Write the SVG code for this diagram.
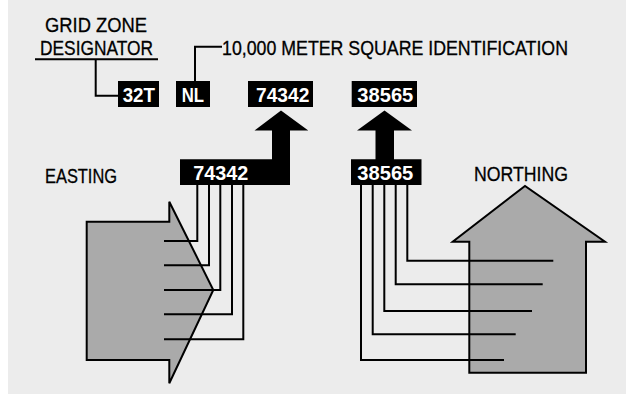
<svg xmlns="http://www.w3.org/2000/svg" width="626" height="395" viewBox="0 0 626 395">
  <style>
    .lbl { font-family: "Liberation Sans", Arial, sans-serif; font-size: 21px; fill: #000; stroke: #000; stroke-width: 0.3; }
    .box { fill: #000; }
    .boxtxt { font-family: "Liberation Sans", Arial, sans-serif; font-size: 21px; font-weight: bold; fill: #fff; }
    .ln { fill: none; stroke: #000; stroke-width: 2; }
    .shape { fill: #aaaaaa; stroke: #000; stroke-width: 2; stroke-linejoin: miter; }
  </style>
  <rect x="0" y="0" width="626" height="395" fill="#ffffff"/>
  <rect x="8" y="0" width="618" height="394" fill="#ececec"/>

  <g id="easting-shape">
    <path class="shape" d="M86.7,221.7 H169.3 V201.7 L213.3,290 L169.3,383.3 V360 H86.7 Z"/>
  </g>
  <g id="northing-shape">
    <path class="shape" d="M469.3,372.7 V241.7 H452.7 L525,186 L605,241.7 H586 V372.7 Z"/>
  </g>

  <g id="connectors">
    <path class="ln" d="M35,59.3 H158"/>
    <path class="ln" d="M95.7,59.3 V95.7 H118"/>
    <path class="ln" d="M195,81 V46.7 H222"/>
    <path class="ln" d="M197.3,185 V241 H164"/>
    <path class="ln" d="M209,185 V265.3 H164"/>
    <path class="ln" d="M220.3,185 V290 H164"/>
    <path class="ln" d="M232,185 V314.3 H164"/>
    <path class="ln" d="M243.3,185 V339.3 H164"/>
    <path class="ln" d="M361,185 V360 H504"/>
    <path class="ln" d="M372.7,185 V334.3 H515.7"/>
    <path class="ln" d="M384.3,185 V311 H532"/>
    <path class="ln" d="M395.7,185 V284.3 H542.7"/>
    <path class="ln" d="M407.3,185 V260.7 H553.3"/>
  </g>

  <g id="grid-zone-designator">
    <text class="lbl" x="45" y="31.7" textLength="102" lengthAdjust="spacingAndGlyphs">GRID ZONE</text>
    <text class="lbl" x="40" y="55" textLength="113" lengthAdjust="spacingAndGlyphs">DESIGNATOR</text>
  </g>
  <g id="square-id-label">
    <text class="lbl" x="222" y="55" font-size="20" style="font-size:20px" textLength="346" lengthAdjust="spacingAndGlyphs">10,000 METER SQUARE IDENTIFICATION</text>
  </g>
  <g id="box-32T">
    <rect class="box" x="118" y="81" width="41" height="26"/>
    <text class="boxtxt" x="122.7" y="101.7" textLength="32.3" lengthAdjust="spacingAndGlyphs">32T</text>
  </g>
  <g id="box-NL">
    <rect class="box" x="176" y="81" width="34" height="26"/>
    <text class="boxtxt" x="181.7" y="101.7" textLength="22.3" lengthAdjust="spacingAndGlyphs">NL</text>
  </g>
  <g id="box-74342-top">
    <rect class="box" x="248" y="81" width="65" height="26"/>
    <text class="boxtxt" x="256" y="101.7" textLength="53.3" lengthAdjust="spacingAndGlyphs">74342</text>
  </g>
  <g id="box-38565-top">
    <rect class="box" x="351.7" y="81" width="65.3" height="26"/>
    <text class="boxtxt" x="357.3" y="101.7" textLength="56" lengthAdjust="spacingAndGlyphs">38565</text>
  </g>
  <g id="easting-arrow">
    <path class="box" d="M180,159.3 H272 V130.5 H254.5 L281,110.5 L308.3,130.5 H290 V185 H180 Z"/>
    <text class="boxtxt" x="193.3" y="180.3" textLength="55" lengthAdjust="spacingAndGlyphs">74342</text>
  </g>
  <g id="northing-arrow">
    <path class="box" d="M351,159.3 H375.5 V130.5 H357 L384.5,110.5 L412,130.5 H394 V159.3 H421.5 V185 H351 Z"/>
    <text class="boxtxt" x="357.3" y="180.3" textLength="56" lengthAdjust="spacingAndGlyphs">38565</text>
  </g>
  <g id="easting-label">
    <text class="lbl" x="45" y="182.7" textLength="72" lengthAdjust="spacingAndGlyphs">EASTING</text>
  </g>
  <g id="northing-label">
    <text class="lbl" x="474" y="181" textLength="94" lengthAdjust="spacingAndGlyphs">NORTHING</text>
  </g>
</svg>
